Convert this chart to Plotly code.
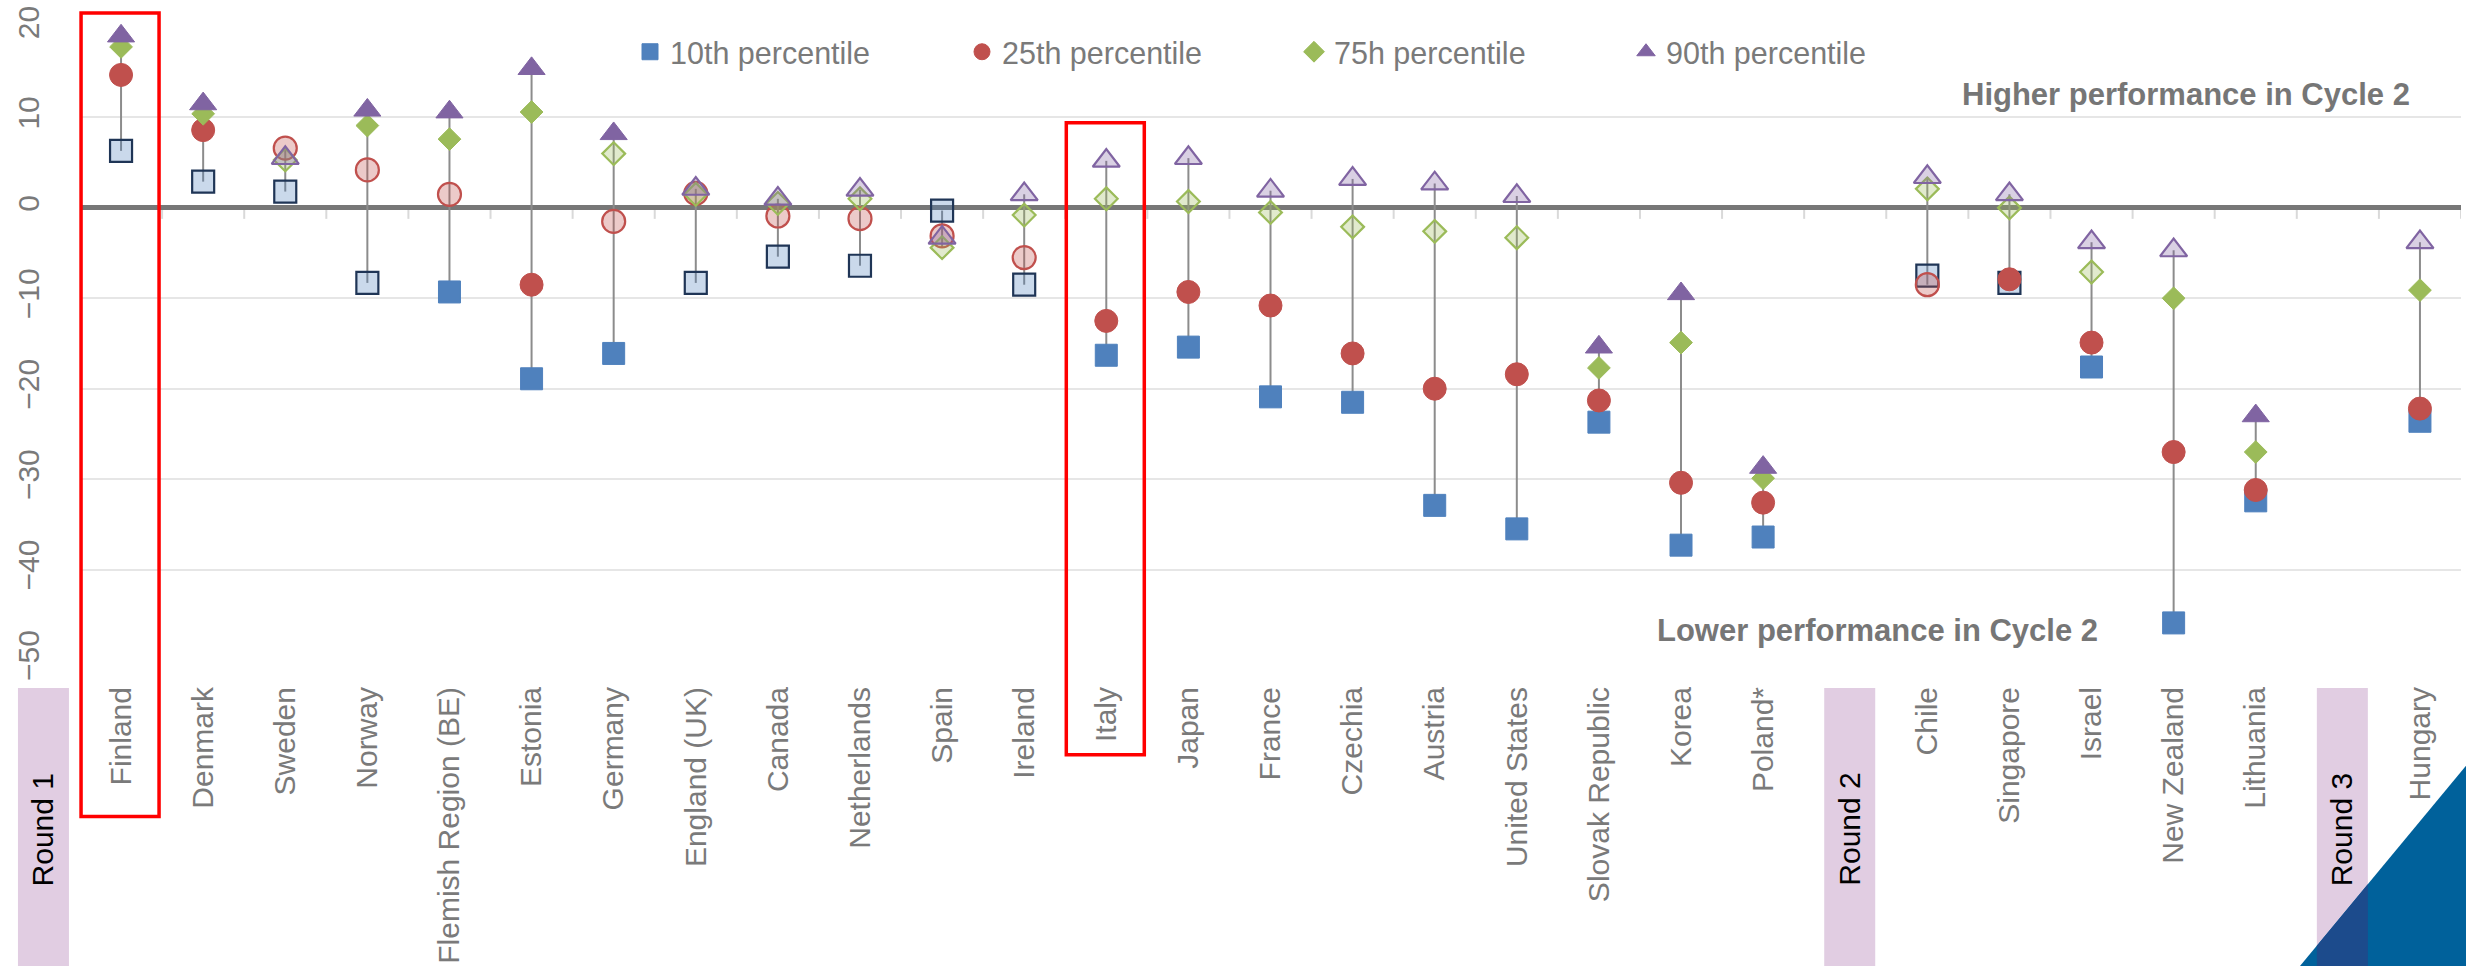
import plotly.graph_objects as go

# ---- data -------------------------------------------------------------
round1 = ["Finland", "Denmark", "Sweden", "Norway", "Flemish Region (BE)", "Estonia",
          "Germany", "England (UK)", "Canada", "Netherlands", "Spain", "Ireland", "Italy",
          "Japan", "France", "Czechia", "Austria", "United States", "Slovak Republic",
          "Korea", "Poland*"]
round2 = ["Chile", "Singapore", "Israel", "New Zealand", "Lithuania"]
round3 = ["Hungary"]
countries = round1 + round2 + round3

# change in score between cycles, by percentile
p10 = [6.3, 2.9, 1.8, -8.3, -9.3, -18.9, -16.1, -8.3, -5.4, -6.4, -0.3, -8.5, -16.3,
       -15.4, -20.9, -21.5, -32.9, -35.5, -23.7, -37.3, -36.4,
       -7.5, -8.3, -17.6, -45.9, -32.4,
       -23.6]
p25 = [14.7, 8.6, 6.6, 4.2, 1.5, -8.5, -1.5, 1.6, -0.9, -1.2, -3.1, -5.5, -12.5,
       -9.3, -10.8, -16.1, -20.0, -18.4, -21.3, -30.4, -32.6,
       -8.5, -7.9, -14.9, -27.0, -31.2,
       -22.2]
p75 = [17.8, 10.4, 5.3, 9.1, 7.6, 10.6, 6.0, 1.5, 0.5, 1.0, -4.4, -0.8, 1.0,
       0.7, -0.5, -2.1, -2.6, -3.3, -17.7, -14.9, -29.9,
       2.1, 0.0, -7.1, -10.0, -27.0,
       -9.1]
p90 = [19.0, 11.5, 5.5, 10.8, 10.6, 15.4, 8.2, 2.1, 1.0, 2.0, -3.3, 1.5, 5.2,
       5.5, 1.9, 3.2, 2.7, 1.3, -15.4, -9.5, -28.7,
       3.4, 1.5, -3.8, -4.7, -23.0,
       -3.8]

# 1 = statistically significant change (solid marker), 0 = not significant
sig10 = [0, 0, 0, 0, 1, 1, 1, 0, 0, 0, 0, 0, 1, 1, 1, 1, 1, 1, 1, 1, 1, 0, 0, 1, 1, 1, 1]
sig25 = [1, 1, 0, 0, 0, 1, 0, 0, 0, 0, 0, 0, 1, 1, 1, 1, 1, 1, 1, 1, 1, 0, 1, 1, 1, 1, 1]
sig75 = [1, 1, 0, 1, 1, 1, 0, 0, 0, 0, 0, 0, 0, 0, 0, 0, 0, 0, 1, 1, 1, 0, 0, 0, 1, 1, 1]
sig90 = [1, 1, 0, 1, 1, 1, 1, 0, 0, 0, 0, 0, 0, 0, 0, 0, 0, 0, 1, 1, 1, 0, 0, 0, 0, 1, 0]

series_names = ["10th percentile", "25th percentile", "75h percentile", "90th percentile"]
round_names = ["Round 1", "Round 2", "Round 3"]
highlighted = ["Finland", "Italy"]

# ---- category slots (an empty slot separates the rounds) ----------------
slots = round1 + [None] + round2 + [None] + round3
xpos = [slots.index(c) for c in countries]
round_slots = [-1] + [i for i, s in enumerate(slots) if s is None]

# ---- geometry -----------------------------------------------------------
W, H = 2466, 969
ML, MR, MT, MB = 80, 5, 27, 307
PW, PH = W - ML - MR, H - MT - MB
NSLOT = len(slots)


def fx(px):
    return (px - ML) / PW


def fy(py):
    return (H - MB - py) / PH


def slot_px(k):
    return ML + (k + 0.5) * PW / NSLOT


SANS = "Liberation Sans, Arial, sans-serif"
GREY_TXT = "#7a7a7a"

styles = [
    dict(symbol="square", size=22, color="#4F81BD", light="rgba(79,129,189,0.3)", edge="#1F3556"),
    dict(symbol="circle", size=23, color="#C0504D", light="rgba(192,80,77,0.3)", edge="#C0504D"),
    dict(symbol="diamond", size=17.5, color="#9BBB59", light="rgba(155,187,89,0.3)", edge="#9BBB59"),
    dict(symbol="triangle-up", size=23.5, color="#8064A2", light="rgba(128,100,162,0.3)", edge="#8064A2"),
]

fig = go.Figure()

# high-low connector from lowest to highest percentile of each country
lx, ly = [], []
for x, a, b, c, d in zip(xpos, p10, p25, p75, p90):
    lx += [x, x, None]
    ly += [min(a, b, c, d), max(a, b, c, d), None]
fig.add_trace(go.Scatter(x=lx, y=ly, mode="lines", line=dict(color="#8c8c8c", width=2),
                         showlegend=False, hoverinfo="skip", cliponaxis=False))

for name, vals, sig, st in zip(series_names, [p10, p25, p75, p90],
                               [sig10, sig25, sig75, sig90], styles):
    xs_s = [x for x, s in zip(xpos, sig) if s]
    ys_s = [v for v, s in zip(vals, sig) if s]
    xs_n = [x for x, s in zip(xpos, sig) if not s]
    ys_n = [v for v, s in zip(vals, sig) if not s]
    fig.add_trace(go.Scatter(
        x=xs_n, y=ys_n, mode="markers", name=name, legendgroup=name, showlegend=False,
        cliponaxis=False,
        marker=dict(symbol=st["symbol"], size=st["size"], color=st["light"],
                    line=dict(color=st["edge"], width=2.2))))
    fig.add_trace(go.Scatter(
        x=xs_s, y=ys_s, mode="markers", name=name, legendgroup=name,
        cliponaxis=False,
        marker=dict(symbol=st["symbol"], size=st["size"], color=st["color"],
                    line=dict(color=st["color"], width=1))))

shapes = []
# small tick marks hanging below the zero line at slot boundaries
for k in range(NSLOT + 1):
    shapes.append(dict(type="line", xref="x", yref="y", x0=k - 0.5, x1=k - 0.5,
                       ysizemode="pixel", yanchor=0, y0=0, y1=-11,
                       line=dict(color="#d9d9d9", width=2), layer="below"))

# shaded "Round" markers below the axis
annotations = []
for name, k in zip(round_names, round_slots):
    cx = slot_px(k) + 4
    shapes.append(dict(type="rect", xref="paper", yref="paper",
                       x0=fx(cx - 25), x1=fx(cx + 26), y0=fy(H), y1=fy(690),
                       fillcolor="#E1CDE2", line=dict(width=0), layer="above"))
    annotations.append(dict(xref="paper", yref="paper", x=fx(cx), y=fy(832),
                            xanchor="center", yanchor="middle",
                            text=name, textangle=-90, showarrow=False,
                            font=dict(family=SANS, size=30, color="#000000")))

# red outline around highlighted countries
box_extent = {"Finland": (13, 819), "Italy": (123, 757)}
for c in highlighted:
    cx = slot_px(slots.index(c)) - 1
    top, bottom = box_extent[c]
    shapes.append(dict(type="rect", xref="paper", yref="paper",
                       x0=fx(cx - 39), x1=fx(cx + 39), y0=fy(bottom), y1=fy(top),
                       line=dict(color="#FF0000", width=3.5), fillcolor="rgba(0,0,0,0)",
                       layer="above"))

# corner decoration
tri = [(2300, H), (W, 768), (W, H)]
shapes.append(dict(type="path", xref="paper", yref="paper",
                   path="M " + " L ".join(f"{fx(a):.5f},{fy(b):.5f}" for a, b in tri) + " Z",
                   fillcolor="#00619B", line=dict(width=0), layer="above"))
r3 = slot_px(round_slots[-1]) + 4
r3a, r3b = r3 - 25, r3 + 26
slope = (H - 768) / (W - 2300)
overlap = [(r3a, H), (r3a, H - slope * (r3a - 2300)), (r3b, H - slope * (r3b - 2300)), (r3b, H)]
shapes.append(dict(type="path", xref="paper", yref="paper",
                   path="M " + " L ".join(f"{fx(a):.5f},{fy(b):.5f}" for a, b in overlap) + " Z",
                   fillcolor="#1C4B8C", line=dict(width=0), layer="above"))

annotations.append(dict(xref="paper", yref="paper", x=fx(2412), y=fy(95),
                        xanchor="right", yanchor="middle", showarrow=False,
                        text="<b>Higher performance in Cycle 2</b>",
                        font=dict(family=SANS, size=31, color="#767676")))
annotations.append(dict(xref="paper", yref="paper", x=fx(1655), y=fy(632),
                        xanchor="left", yanchor="middle", showarrow=False,
                        text="<b>Lower performance in Cycle 2</b>",
                        font=dict(family=SANS, size=31, color="#767676")))

fig.update_layout(
    width=W, height=H, autosize=False,
    margin=dict(l=ML, r=MR, t=MT, b=MB),
    paper_bgcolor="white", plot_bgcolor="white",
    shapes=shapes, annotations=annotations,
    legend=dict(orientation="h", x=fx(630), y=fy(52), xanchor="left", yanchor="middle",
                font=dict(family=SANS, size=30.5, color=GREY_TXT),
                entrywidth=287, entrywidthmode="pixels", bgcolor="rgba(0,0,0,0)",
                itemsizing="trace"),
    xaxis=dict(range=[-0.5, NSLOT - 0.5], tickmode="array",
               tickvals=list(range(NSLOT)), ticktext=[s or "" for s in slots],
               tickangle=-90, tickfont=dict(family=SANS, size=30, color=GREY_TXT),
               showgrid=False, zeroline=False, showline=False, ticks="",
               ticklabelstandoff=20),
    yaxis=dict(range=[-50, 20], dtick=10, tickangle=-90,
               tickfont=dict(family=SANS, size=30, color=GREY_TXT),
               showgrid=True, gridcolor="#E6E6E6", gridwidth=1.5,
               zeroline=True, zerolinecolor="#777777", zerolinewidth=4.5,
               showline=False, ticks="", ticklabelstandoff=34),
)

fig.write_html("out.html")
